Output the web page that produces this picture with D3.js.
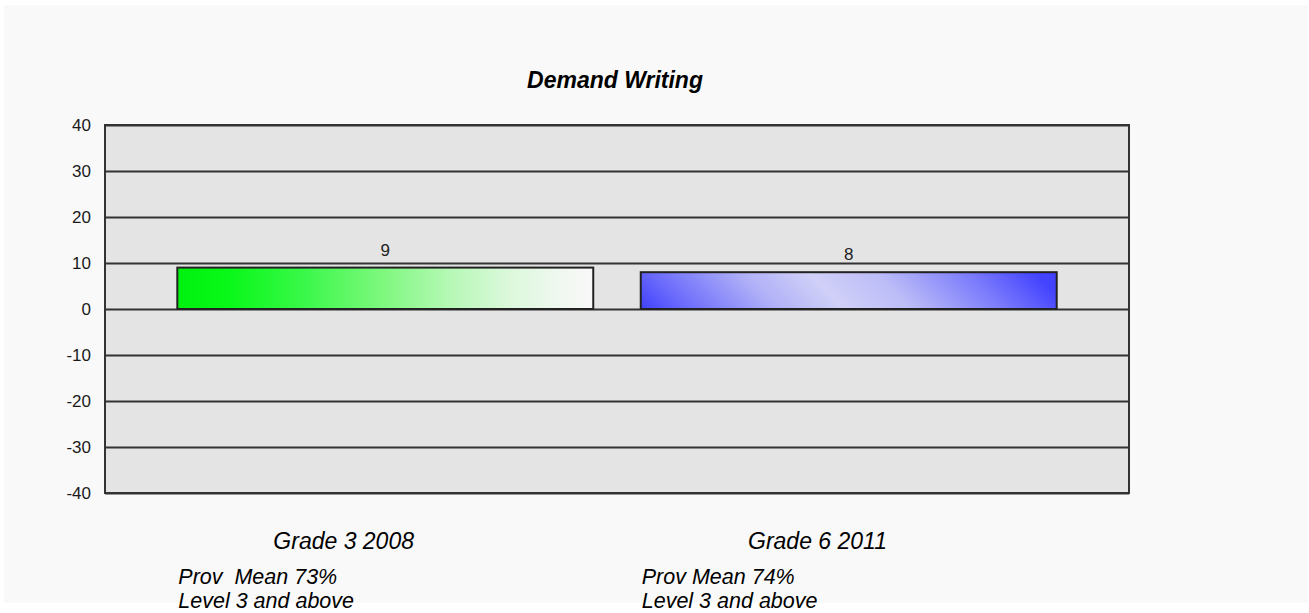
<!DOCTYPE html>
<html>
<head>
<meta charset="utf-8">
<script src="https://cdn.jsdelivr.net/npm/d3@7"></script>
<style>
  html, body { margin: 0; padding: 0; background: #ffffff; }
  svg { display: block; }
  text { font-family: "Liberation Sans", Arial, sans-serif; }
</style>
</head>
<body>
<svg id="chart" width="1309" height="613"></svg>
<script>
// ---- data ----
const title = "Demand Writing";
const categories = ["Grade 3 2008", "Grade 6 2011"];
const values = [9, 8];
const subLine1 = ["Prov  Mean 73%", "Prov Mean 74%"];
const subLine2 = ["Level 3 and above", "Level 3 and above"];
const yTicks = [-40, -30, -20, -10, 0, 10, 20, 30, 40];

// ---- layout ----
const W = 1309, H = 613;
const plot = { left: 105, right: 1129, top: 125, bottom: 493 };

const svg = d3.select("#chart");
const defs = svg.append("defs");

// panel background
svg.append("rect").attr("x", 4).attr("y", 5).attr("width", W - 5).attr("height", 598)
  .attr("fill", "#f9f9f9");

const x = d3.scaleBand().domain(categories)
  .range([plot.left, plot.right]).paddingInner(0.1025).paddingOuter(0.156);
const y = d3.scaleLinear().domain([-40, 40]).range([plot.bottom, plot.top]);

// plot background
svg.append("rect").attr("x", plot.left).attr("y", plot.top)
  .attr("width", plot.right - plot.left).attr("height", plot.bottom - plot.top)
  .attr("fill", "#e4e4e4");

// gridlines via axis
const yAxis = d3.axisLeft(y).tickValues(yTicks).tickSize(-(plot.right - plot.left)).tickPadding(14)
  .tickFormat(d => String(d));
const gy = svg.append("g").attr("transform", `translate(${plot.left},0)`).call(yAxis);
gy.select(".domain").remove();
gy.selectAll(".tick line").attr("stroke", "#333").attr("stroke-width", 2);
gy.selectAll(".tick text").attr("fill", "#1a1a1a").style("font-size", "17px")
  .style("font-family", "'Liberation Sans', Arial, sans-serif")
  .attr("x", -14);

// gradients
const green = defs.append("linearGradient").attr("id", "gGreen")
  .attr("x1", 0).attr("y1", 0).attr("x2", 1).attr("y2", 0);
[[0, "#00f010"], [0.12, "#08f818"], [0.3, "#38f848"], [0.5, "#80f880"], [0.65, "#b4f8b4"],
 [0.8, "#dcf8dc"], [0.92, "#f0f8f0"], [1, "#f8f8f8"]].forEach(([o, c]) =>
  green.append("stop").attr("offset", o).attr("stop-color", c));

// blue diagonal gradient in user space
const bx = x(categories[1]), bw = x.bandwidth();
const bTop = y(values[1]), bBot = y(0);
const D = ((bw) + (bBot - bTop)) / 2;
const blue = defs.append("linearGradient").attr("id", "gBlue")
  .attr("gradientUnits", "userSpaceOnUse")
  .attr("x1", bx).attr("y1", bBot).attr("x2", bx + D).attr("y2", bBot - D);
[[0, "#4040ff"], [0.1, "#6a6afc"], [0.3, "#b0b0f8"], [0.45, "#d0d0f8"], [0.6, "#bcbcf8"],
 [0.8, "#7c7cfc"], [0.95, "#4444ff"], [1, "#4040ff"]].forEach(([o, c]) =>
  blue.append("stop").attr("offset", o).attr("stop-color", c));

const fills = ["url(#gGreen)", "url(#gBlue)"];

// bars
svg.selectAll("rect.bar").data(values).enter().append("rect").attr("class", "bar")
  .attr("x", (d, i) => x(categories[i]))
  .attr("y", d => y(Math.max(0, d)))
  .attr("width", x.bandwidth())
  .attr("height", d => Math.abs(y(d) - y(0)))
  .attr("fill", (d, i) => fills[i])
  .attr("stroke", "#222").attr("stroke-width", 2);

// value labels
svg.selectAll("text.val").data(values).enter().append("text").attr("class", "val")
  .attr("x", (d, i) => x(categories[i]) + x.bandwidth() / 2)
  .attr("y", d => y(d) - 12)
  .attr("text-anchor", "middle")
  .style("font-size", "17px")
  .attr("fill", "#222")
  .text(d => d);

// plot border
svg.append("rect").attr("x", plot.left).attr("y", plot.top)
  .attr("width", plot.right - plot.left).attr("height", plot.bottom - plot.top)
  .attr("fill", "none").attr("stroke", "#333").attr("stroke-width", 2);

// title
svg.append("text").attr("x", 615).attr("y", 88).attr("text-anchor", "middle")
  .style("font-size", "23px").style("font-weight", "bold").style("font-style", "italic")
  .text(title);

// category labels
svg.selectAll("text.cat").data(categories).enter().append("text").attr("class", "cat")
  .attr("x", (d, i) => x(d) + x.bandwidth() * (i === 0 ? 0.4 : 0.425))
  .attr("y", 549).attr("text-anchor", "middle")
  .style("font-size", "23px").style("font-style", "italic")
  .text(d => d);

svg.selectAll("text.sub1").data(subLine1).enter().append("text").attr("class", "sub1")
  .attr("x", (d, i) => x(categories[i]) + 1)
  .attr("y", 584)
  .style("font-size", "21.5px").style("font-style", "italic").style("white-space", "pre")
  .text(d => d);

svg.selectAll("text.sub2").data(subLine2).enter().append("text").attr("class", "sub2")
  .attr("x", (d, i) => x(categories[i]) + 1)
  .attr("y", 608)
  .style("font-size", "21.5px").style("font-style", "italic")
  .text(d => d);
</script>
</body>
</html>
